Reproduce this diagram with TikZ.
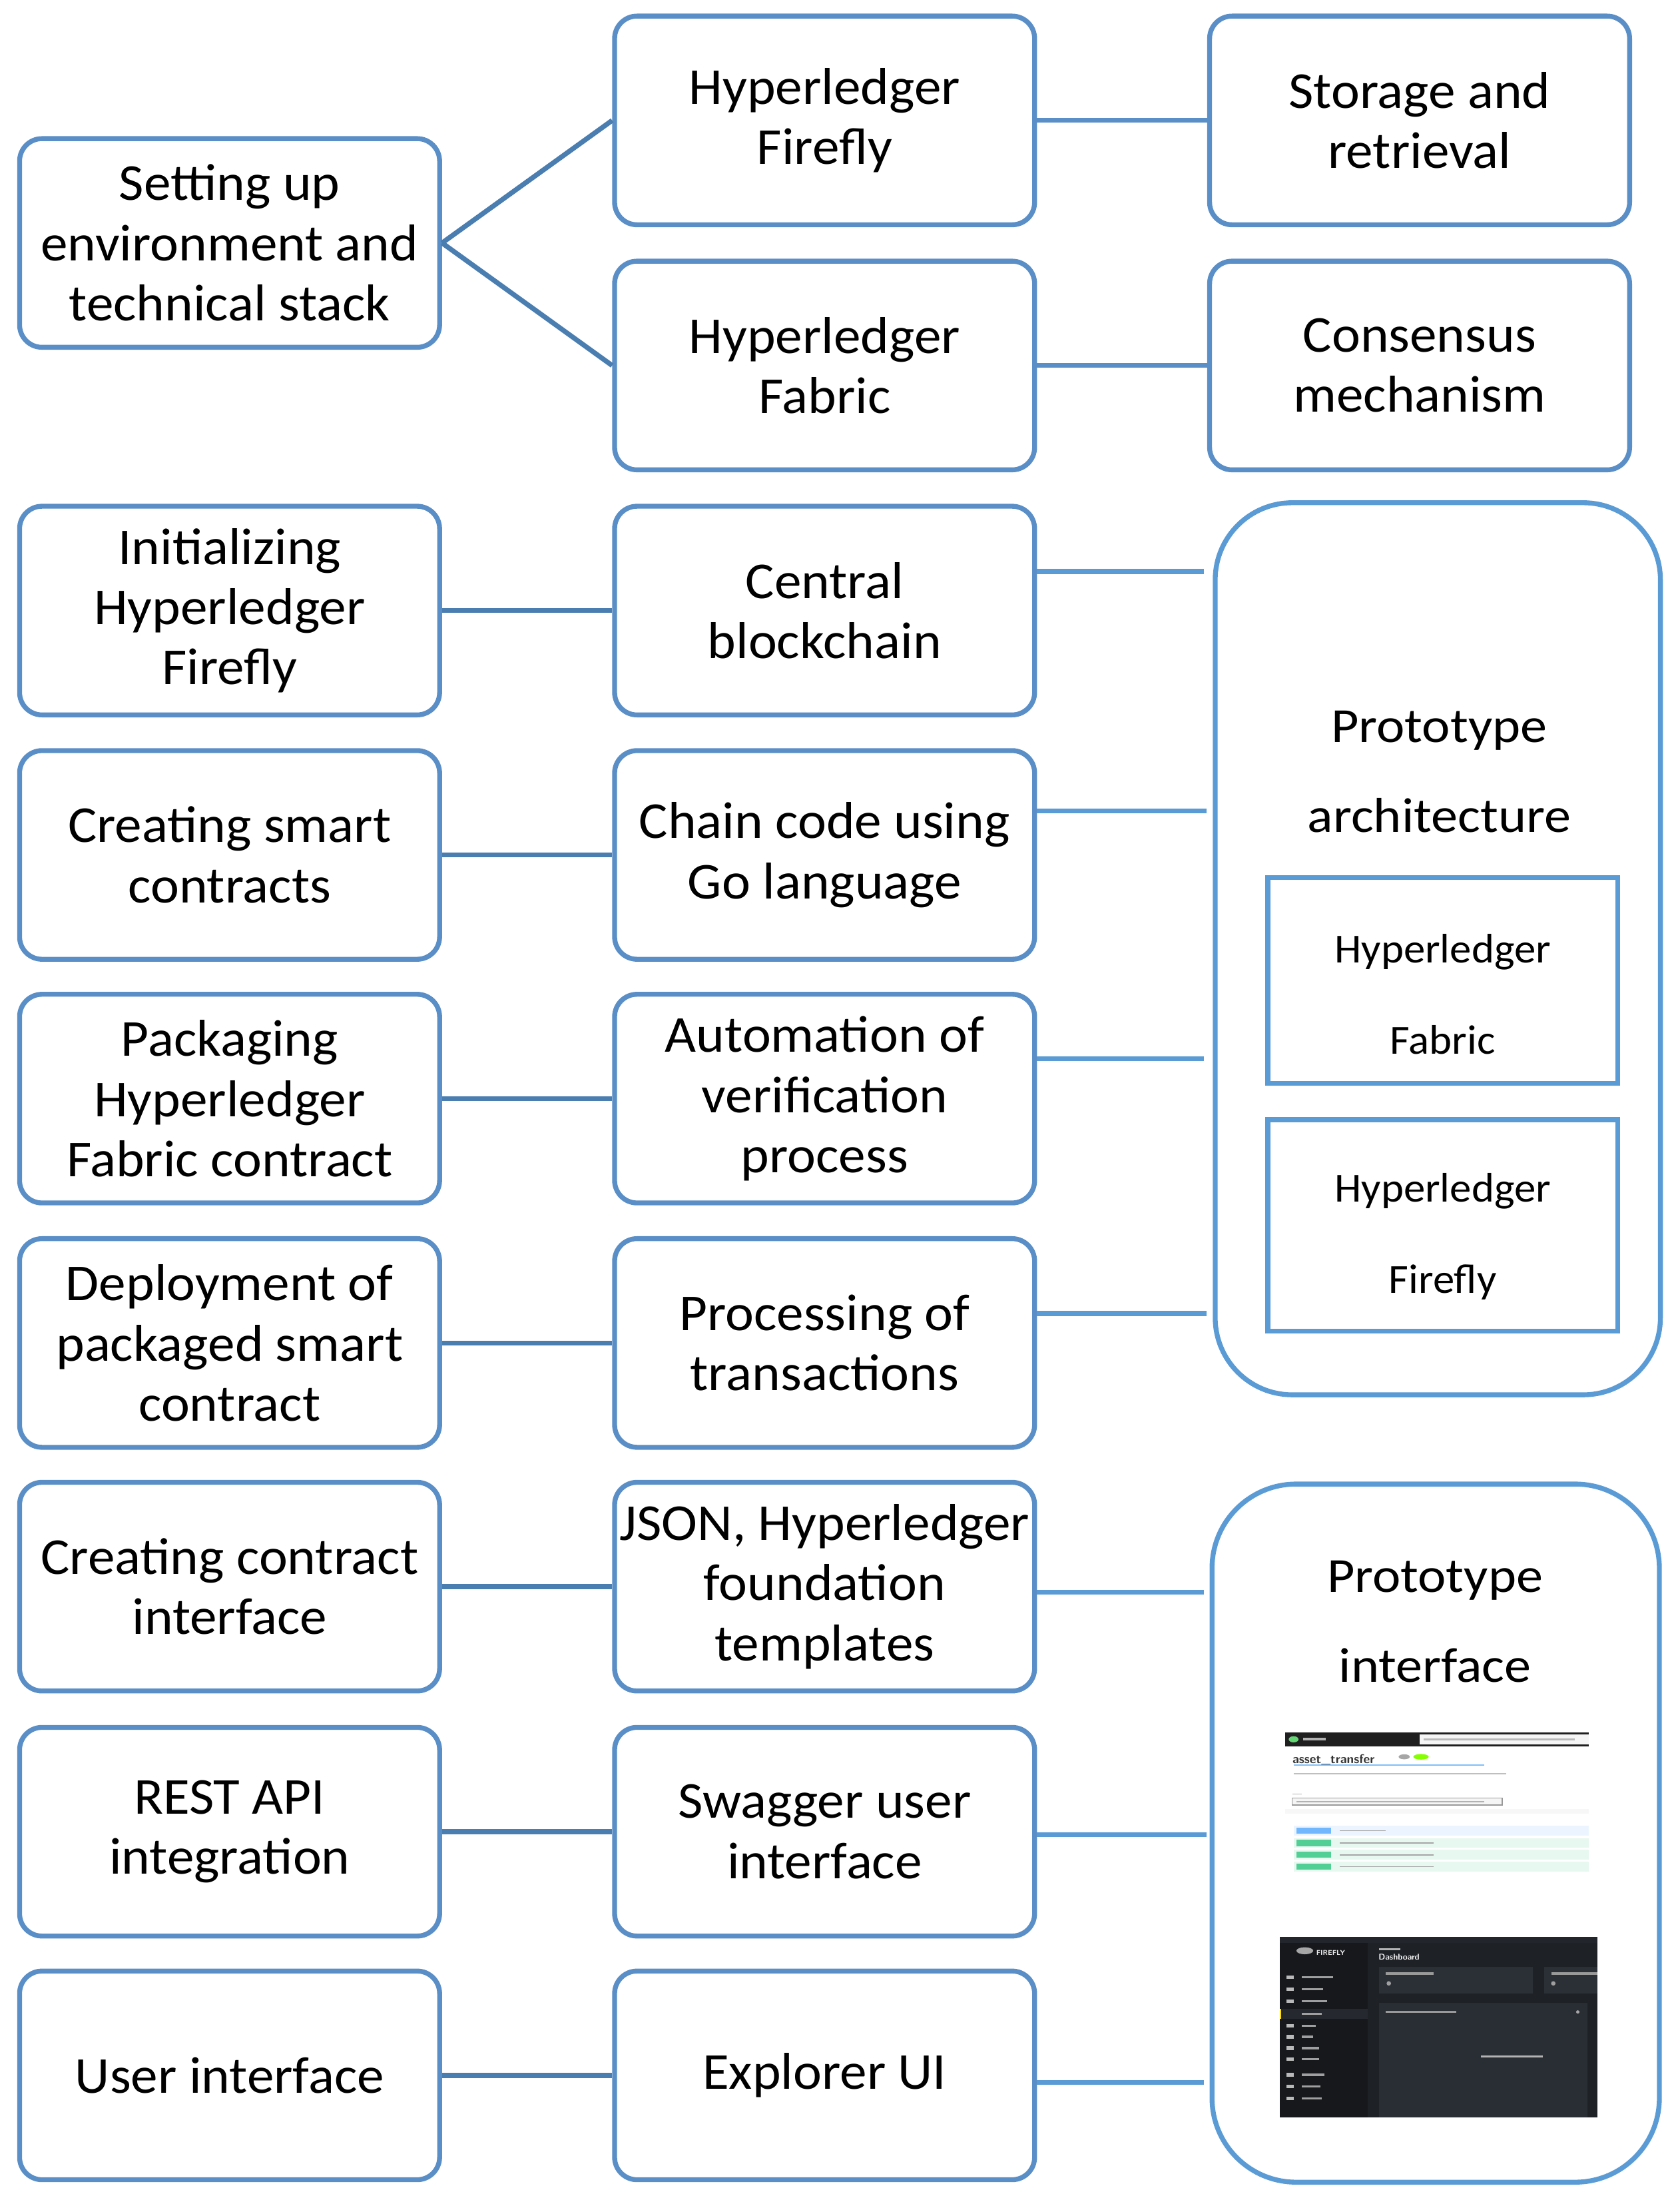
\documentclass[tikz,border=0pt]{standalone}
\usepackage{fontspec}
\setmainfont{Carlito}[FakeStretch=1.045]
\newfontfamily\protofont{Carlito}[FakeStretch=1.09]
\definecolor{boxblue}{HTML}{5A8EC6}
\definecolor{darkline}{HTML}{4A7DB0}
\definecolor{lightblue}{HTML}{5B9BD5}
\definecolor{ffdark}{HTML}{1E2126}
\definecolor{ffside}{HTML}{16181C}
\definecolor{ffcard}{HTML}{2B2F36}
\definecolor{getblue}{HTML}{61AFFE}
\definecolor{postgreen}{HTML}{49CC90}
\begin{document}
\begin{tikzpicture}[x=1pt,y=-1pt,
  stepbox/.style={draw=boxblue, line width=3.5pt, rounded corners=16pt,
    minimum width=300pt, minimum height=149pt, align=center, inner sep=0pt,
    font=\fontsize{37}{43}\selectfont},
  bigbox/.style={draw=lightblue, line width=3.5pt, minimum width=318pt},
  innerbox/.style={draw=lightblue, line width=3.5pt, minimum width=250pt, inner sep=0pt},
  prototext/.style={align=center, inner sep=0pt, font=\protofont\fontsize{35}{64}\selectfont},
  innertext/.style={align=center, inner sep=0pt, font=\fontsize{29.5}{65}\selectfont},
  lconn/.style={draw=darkline, line width=3.5pt},
  mconn/.style={draw=boxblue, line width=3.5pt},
  rconn/.style={draw=lightblue, line width=3.5pt},
  shot/.style={inner sep=0pt, font=\sffamily\bfseries\fontsize{9}{9}\selectfont}
]
\useasboundingbox (0,0) rectangle (1200,1571);

% ---- top section
\node[stepbox] (setup) at (164,173.5) {Setting up\\environment and\\technical stack};
\node[stepbox] (ff) at (589,86) {Hyperledger\\Firefly};
\node[stepbox] (fb) at (589,261) {Hyperledger\\Fabric};
\node[stepbox] (st) at (1014,86) {Storage and\\retrieval};
\node[stepbox] (cs) at (1014,261) {Consensus\\mechanism};
\draw[lconn] (setup.east) -- (ff.west);
\draw[lconn] (setup.east) -- (fb.west);
\draw[mconn] (ff) -- (st);
\draw[mconn] (fb) -- (cs);

% ---- column 1
\node[stepbox] (a1) at (164,436) {Initializing\\Hyperledger\\Firefly};
\node[stepbox] (a2) at (164,610.5) {Creating smart\\contracts};
\node[stepbox] (a3) at (164,784.5) {Packaging\\Hyperledger\\Fabric contract};
\node[stepbox] (a4) at (164,959) {Deployment of\\packaged smart\\contract};
\node[stepbox] (a5) at (164,1133) {Creating contract\\interface};
\node[stepbox] (a6) at (164,1308) {REST API\\integration};
\node[stepbox] (a7) at (164,1482) {User interface};

% ---- column 2
\node[stepbox] (b1) at (589,436) {Central\\blockchain};
\node[stepbox] (b2) at (589,610.5) {Chain code using\\Go language};
\node[stepbox] (b3) at (589,784.5) {Automation of\\verification\\process};
\node[stepbox] (b4) at (589,959) {Processing of\\transactions};
\node[stepbox] (b5) at (589,1133) {JSON, Hyperledger\\foundation\\templates};
\node[stepbox] (b6) at (589,1308) {Swagger user\\interface};
\node[stepbox] (b7) at (589,1482) {Explorer UI};

\foreach \i in {1,...,7} {\draw[lconn] (a\i) -- (b\i);}

% ---- prototype architecture
\node[bigbox, minimum height=637pt, rounded corners=55pt] (arch) at (1027,677.5) {};
\node[prototext] (archt) at (1028,551) {Prototype\\architecture};
\node[innerbox, minimum height=147pt] (pfab) at (1030.5,700) {};
\node[innertext] (pfabt) at (1030.5,710) {Hyperledger\\Fabric};
\node[innerbox, minimum height=151pt] (pfly) at (1030.5,875) {};
\node[innertext] (pflyt) at (1030.5,883) {Hyperledger\\Firefly};

\coordinate (e1) at (860,408);
\coordinate (e2) at (862,579);
\coordinate (e3) at (860,756);
\coordinate (e4) at (862,938);
\draw[rconn] (b1.east |- e1) -- (e1);
\draw[rconn] (b2.east |- e2) -- (e2);
\draw[rconn] (b3.east |- e3) -- (e3);
\draw[rconn] (b4.east |- e4) -- (e4);

% ---- prototype interface
\node[bigbox, minimum width=319.5pt, minimum height=498.5pt, rounded corners=60pt] (intf) at (1025.5,1309) {};
\node[prototext] (intft) at (1025,1158) {Prototype\\interface};

\coordinate (e5) at (860,1137);
\coordinate (e6) at (862,1310);
\coordinate (e7) at (860,1487);
\draw[rconn] (b5.east |- e5) -- (e5);
\draw[rconn] (b6.east |- e6) -- (e6);
\draw[rconn] (b7.east |- e7) -- (e7);

% ---- swagger screenshot
\fill[black!88] (918,1237) rectangle (1135,1247);
\fill[postgreen!80!lime] (924,1242) ellipse (3.5pt and 2.2pt);
\fill[gray!60] (931,1241) rectangle (947,1243);
\fill[white!92!gray] (1014,1238.5) rectangle (1135,1245.5);
\fill[gray!55] (1017,1241.3) rectangle (1125,1242.7);
\node[shot, anchor=west, text=black!80] (swt) at (923,1257) {asset\_transfer};
\fill[gray!70] (1003,1254.5) ellipse (4pt and 1.8pt);
\fill[lime!70!green] (1015,1254.5) ellipse (5.5pt and 2pt);
\draw[getblue!80, line width=0.8pt] (924,1260.5) -- (1060,1260.5);
\draw[gray!50, line width=0.9pt] (924,1266.5) -- (1076,1266.5);
\draw[gray!60, line width=0.6pt] (923,1281) -- (930,1281);
\draw[gray!80, line width=0.7pt, fill=gray!8] (923,1284) rectangle (1073,1289);
\draw[gray!60, line width=0.8pt] (926,1286.5) -- (1060,1286.5);
\fill[gray!6] (918,1292) rectangle (1135,1295);
\fill[getblue!12] (924,1303.5) rectangle (1135,1311);
\fill[getblue!90] (926,1305) rectangle (951,1309.5);
\draw[gray!70, line width=0.8pt] (957,1307.3) -- (990,1307.3);
\foreach \yy in {1312.5,1321,1329.5} {
  \fill[postgreen!13] (924,\yy) rectangle (1135,\yy+7);
  \fill[postgreen!95] (926,\yy+1.2) rectangle (951,\yy+5.7);
  \draw[gray!70, line width=0.8pt] (957,\yy+3.5) -- (1024,\yy+3.5);
}

% ---- firefly screenshot
\fill[ffdark] (914,1383) rectangle (1141,1512);
\fill[ffcard!80!black] (914,1383) rectangle (1141,1387.5);
\fill[ffside] (914,1387.5) rectangle (977,1512);
\fill[gray!70] (932,1393) ellipse (6pt and 2.5pt);
\node[shot, anchor=west, text=white!85!gray, font=\sffamily\bfseries\fontsize{5}{5}\selectfont] (fft) at (940,1394.5) {FIREFLY};
\foreach \yy/\ww in {1412/22,1420.5/15,1429/18,1446.5/10,1454.5/8,1462.5/12,1470.5/12,1481.5/16,1490/13,1498.5/14} {
  \fill[gray!55] (919,\yy-1.3) rectangle (924,\yy+1.3);
  \fill[gray!75] (930,\yy-0.8) rectangle (930+\ww,\yy+0.8);
}
\fill[ffcard!70!ffside] (915,1434.5) rectangle (977,1441.5);
\fill[yellow!80!orange] (914,1434.5) rectangle (915.3,1441.5);
\fill[gray!75] (930,1437.2) rectangle (944,1438.8);
\fill[gray!60] (985,1391) rectangle (1000,1392.5);
\node[shot, anchor=west, text=white!90!gray, font=\sffamily\bfseries\fontsize{6}{6}\selectfont] (ffd) at (984.5,1397.5) {Dashboard};
\fill[ffcard] (985,1404.5) rectangle (1095,1423.5);
\fill[ffcard] (1103,1404.5) rectangle (1141,1423.5);
\fill[gray!80] (990,1408.5) rectangle (1024,1410);
\fill[gray!80] (1108,1408.5) rectangle (1141,1410);
\fill[gray!75] (992,1416.3) circle (1.6pt);
\fill[gray!75] (1109.5,1416.3) circle (1.6pt);
\fill[ffcard!85!ffdark] (985,1430) rectangle (1134,1512);
\fill[gray!80] (990,1436) rectangle (1040,1437.5);
\fill[gray!70] (1127,1436.7) circle (1.2pt);
\fill[gray!60] (1058,1468) rectangle (1102,1469.3);
\end{tikzpicture}
\end{document}
